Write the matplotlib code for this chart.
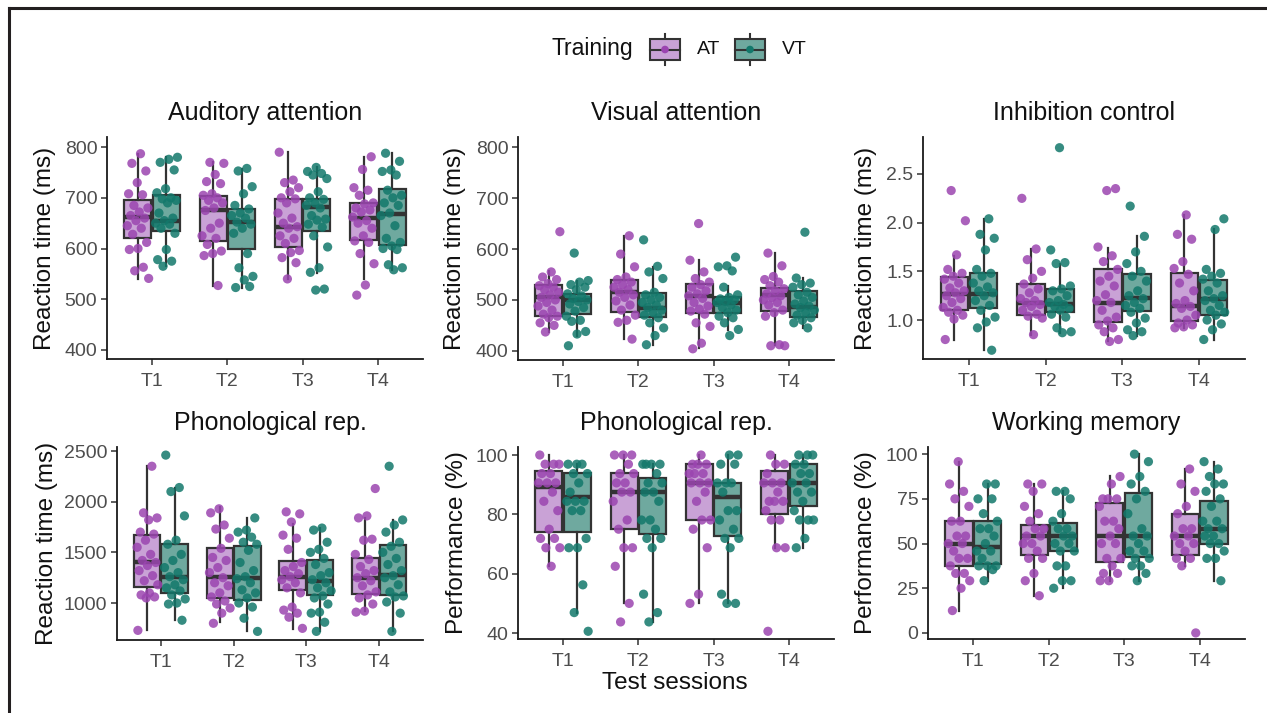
import matplotlib
matplotlib.use("Agg")
import matplotlib.pyplot as plt
from matplotlib.patches import Rectangle
from matplotlib.lines import Line2D
import numpy as np

plt.rcParams['font.family'] = ['Liberation Sans', 'DejaVu Sans']

sessions = ["T1", "T2", "T3", "T4"]
groups = ["AT", "VT"]

titles = ["Auditory attention", "Visual attention", "Inhibition control",
          "Phonological rep.", "Phonological rep.", "Working memory"]
ylabels = ["Reaction time (ms)", "Reaction time (ms)", "Reaction time (ms)",
           "Reaction time (ms)", "Performance (%)", "Performance (%)"]
yticks = [[400, 500, 600, 700, 800], [400, 500, 600, 700, 800], [1.0, 1.5, 2.0, 2.5],
          [1000, 1500, 2000, 2500], [40, 60, 80, 100], [0, 25, 50, 75, 100]]
ytick_labels = [["400", "500", "600", "700", "800"], ["400", "500", "600", "700", "800"],
                ["1.0", "1.5", "2.0", "2.5"], ["1000", "1500", "2000", "2500"],
                ["40", "60", "80", "100"], ["0", "25", "50", "75", "100"]]

# Box stats per panel: [session][group] -> [whislo, q1, med, q3, whishi]
aud_box = [
    [[540, 620, 662, 696, 787], [565, 635, 655, 706, 780]],
    [[527, 615, 676, 704, 770], [523, 600, 652, 678, 757]],
    [[540, 602, 642, 698, 790], [552, 634, 682, 697, 760]],
    [[540, 617, 660, 690, 780], [557, 607, 669, 717, 788]],
]
vis_box = [
    [[437, 468, 505, 530, 556], [430, 472, 500, 512, 538]],
    [[423, 477, 515, 540, 625], [412, 466, 485, 514, 565]],
    [[405, 474, 508, 532, 578], [440, 474, 494, 505, 527]],
    [[412, 478, 510, 524, 592], [445, 467, 487, 518, 543]],
]
inh_box = [
    [[0.80, 1.10, 1.27, 1.44, 1.66], [0.69, 1.12, 1.27, 1.48, 2.04]],
    [[0.85, 1.05, 1.17, 1.37, 1.73], [0.87, 1.08, 1.16, 1.32, 1.58]],
    [[0.78, 0.98, 1.18, 1.52, 1.74], [0.84, 1.09, 1.23, 1.47, 1.86]],
    [[0.92, 0.99, 1.14, 1.48, 2.08], [0.80, 1.05, 1.22, 1.41, 1.93]],
]
phrt_box = [
    [[730, 1158, 1400, 1670, 2350], [830, 1100, 1258, 1578, 2138]],
    [[810, 1052, 1254, 1539, 1945], [724, 1026, 1246, 1559, 1842]],
    [[746, 1131, 1254, 1414, 1783], [720, 1075, 1217, 1427, 1745]],
    [[920, 1085, 1250, 1445, 1840], [720, 1075, 1272, 1569, 1816]],
]
phpc_box = [
    [[62.5, 74.2, 89.1, 94.6, 100], [46.9, 74.2, 85.9, 93.8, 96.9]],
    [[50.0, 75.0, 87.5, 93.8, 100], [43.75, 73.4, 87.5, 92.2, 96.9]],
    [[50.0, 78.1, 90.6, 96.9, 100], [50.0, 72.7, 85.9, 90.6, 100]],
    [[68.75, 80.2, 90.6, 94.6, 100], [68.75, 82.8, 90.6, 97.0, 100]],
]
wm_box = [
    [[12.5, 37.5, 50.0, 62.5, 95.8], [29.2, 38.5, 48.0, 62.5, 83.3]],
    [[20.8, 43.75, 54.2, 60.4, 83.3], [25.0, 45.8, 54.2, 61.5, 79.2]],
    [[29.2, 39.6, 54.2, 72.9, 87.5], [29.2, 42.7, 54.2, 78.0, 100]],
    [[37.5, 43.75, 54.2, 66.7, 91.7], [29.2, 50.0, 58.3, 74.0, 95.8]],
]

# Individual observations: [session][group] -> list of values
aud_pts = [
    [[787, 768, 753, 730, 708, 706, 685, 680, 672, 665, 660, 655, 645, 640, 628, 612, 600, 598, 563, 556, 541],
     [780, 776, 770, 755, 718, 710, 700, 698, 695, 690, 670, 660, 655, 650, 648, 640, 630, 598, 578, 575, 565]],
    [[770, 768, 746, 732, 728, 708, 705, 700, 695, 690, 680, 675, 650, 640, 625, 620, 608, 595, 590, 586, 527],
     [758, 753, 722, 708, 685, 678, 670, 665, 660, 652, 648, 640, 630, 590, 562, 545, 538, 523, 525]],
    [[790, 735, 730, 720, 712, 700, 698, 690, 670, 660, 650, 643, 640, 625, 620, 610, 596, 592, 582, 572, 540],
     [760, 752, 748, 745, 738, 712, 700, 697, 690, 685, 680, 665, 658, 656, 648, 642, 625, 603, 562, 553, 520, 518]],
    [[781, 756, 720, 715, 705, 690, 688, 680, 676, 672, 662, 655, 650, 640, 625, 615, 612, 590, 570, 528, 508],
     [788, 772, 755, 752, 745, 715, 705, 700, 690, 685, 670, 665, 645, 620, 612, 605, 600, 598, 568, 562, 558]],
]
vis_pts = [
    [[634, 555, 545, 540, 532, 528, 525, 520, 515, 510, 505, 500, 495, 488, 480, 472, 468, 465, 455, 450, 437],
     [592, 538, 535, 530, 525, 520, 512, 508, 503, 500, 497, 492, 485, 478, 468, 460, 458, 438, 433, 410]],
    [[626, 590, 565, 545, 540, 535, 530, 525, 520, 515, 510, 505, 498, 490, 480, 470, 460, 456, 423],
     [618, 566, 555, 542, 515, 510, 505, 500, 495, 490, 485, 480, 475, 470, 465, 455, 445, 430, 412]],
    [[650, 578, 555, 542, 535, 530, 525, 518, 512, 508, 503, 495, 488, 482, 478, 472, 455, 448, 415, 404],
     [584, 567, 565, 557, 525, 510, 505, 502, 500, 497, 495, 490, 485, 480, 475, 468, 465, 455, 442, 430]],
    [[592, 567, 546, 540, 535, 528, 522, 518, 512, 508, 505, 500, 495, 490, 480, 475, 468, 412, 410, 410],
     [633, 543, 533, 530, 525, 515, 510, 505, 498, 492, 488, 485, 480, 475, 470, 465, 460, 455, 445]],
]
inh_pts = [
    [[2.33, 2.02, 1.67, 1.52, 1.48, 1.45, 1.42, 1.38, 1.33, 1.30, 1.28, 1.25, 1.22, 1.18, 1.13, 1.10, 1.08, 1.05, 1.01, 0.80],
     [2.04, 1.88, 1.84, 1.72, 1.52, 1.48, 1.45, 1.38, 1.34, 1.30, 1.28, 1.25, 1.20, 1.15, 1.10, 1.03, 0.98, 0.92, 0.69]],
    [[2.25, 1.73, 1.62, 1.50, 1.43, 1.37, 1.32, 1.28, 1.22, 1.20, 1.18, 1.16, 1.14, 1.10, 1.06, 1.04, 1.02, 0.85],
     [2.77, 1.72, 1.59, 1.58, 1.35, 1.32, 1.30, 1.25, 1.20, 1.18, 1.16, 1.14, 1.12, 1.10, 1.06, 1.03, 0.92, 0.88, 0.87]],
    [[2.35, 2.33, 1.75, 1.66, 1.60, 1.52, 1.45, 1.40, 1.35, 1.26, 1.20, 1.18, 1.10, 1.03, 0.99, 0.95, 0.92, 0.88, 0.80, 0.78],
     [2.17, 1.86, 1.70, 1.58, 1.50, 1.45, 1.40, 1.30, 1.25, 1.22, 1.18, 1.15, 1.12, 1.08, 1.02, 0.97, 0.90, 0.88, 0.84]],
    [[2.08, 1.88, 1.83, 1.60, 1.53, 1.47, 1.38, 1.30, 1.20, 1.17, 1.14, 1.12, 1.05, 1.00, 0.97, 0.95, 0.93, 0.92],
     [2.04, 1.93, 1.52, 1.48, 1.45, 1.42, 1.38, 1.30, 1.25, 1.22, 1.20, 1.15, 1.10, 1.08, 1.05, 1.00, 0.96, 0.90, 0.80]],
]
phrt_pts = [
    [[2350, 1890, 1840, 1820, 1700, 1680, 1620, 1550, 1480, 1420, 1400, 1370, 1320, 1270, 1220, 1180, 1100, 1080, 1060, 1050, 730],
     [2460, 2140, 2100, 1860, 1620, 1580, 1480, 1420, 1350, 1300, 1260, 1230, 1180, 1150, 1120, 1080, 1040, 1000, 990, 830]],
    [[1930, 1890, 1770, 1730, 1640, 1540, 1450, 1420, 1350, 1300, 1250, 1200, 1170, 1100, 1060, 1020, 990, 950, 900, 800],
     [1840, 1720, 1700, 1650, 1600, 1580, 1520, 1400, 1320, 1260, 1240, 1200, 1130, 1100, 1050, 1000, 960, 850, 720]],
    [[1900, 1880, 1800, 1670, 1640, 1530, 1400, 1360, 1320, 1290, 1260, 1230, 1200, 1150, 1100, 960, 930, 900, 860, 750],
     [1740, 1720, 1600, 1530, 1500, 1440, 1380, 1300, 1270, 1230, 1200, 1150, 1120, 1070, 1050, 990, 910, 900, 810, 720]],
    [[2130, 1860, 1840, 1630, 1620, 1480, 1430, 1360, 1320, 1290, 1250, 1220, 1170, 1110, 1080, 1050, 990, 920, 910],
     [2350, 1820, 1770, 1700, 1600, 1560, 1500, 1440, 1380, 1320, 1270, 1250, 1180, 1110, 1070, 1060, 1010, 900, 720]],
]
phpc_pts = [
    [[100, 96.9, 96.9, 96.9, 93.75, 93.75, 90.6, 90.6, 90.6, 87.5, 84.4, 81.25, 75, 71.9, 71.9, 68.75, 68.75, 62.5],
     [96.9, 96.9, 96.9, 93.75, 93.75, 90.6, 87.5, 84.4, 84.4, 84.4, 81.25, 81.25, 71.9, 68.75, 68.75, 56.25, 46.9, 40.6]],
    [[100, 100, 100, 96.9, 93.75, 93.75, 90.6, 90.6, 87.5, 87.5, 84.4, 78.1, 75, 68.75, 68.75, 62.5, 50, 43.75],
     [96.9, 96.9, 96.9, 96.9, 93.75, 90.6, 90.6, 87.5, 87.5, 84.4, 78.1, 78.1, 75, 71.9, 71.9, 68.75, 53.1, 46.9, 43.75]],
    [[100, 96.9, 96.9, 96.9, 93.75, 93.75, 93.75, 90.6, 90.6, 90.6, 87.5, 84.4, 78.1, 78.1, 75, 68.75, 53.1, 50],
     [100, 100, 96.9, 96.9, 90.6, 90.6, 90.6, 87.5, 81.25, 81.25, 78.1, 75, 71.9, 71.9, 68.75, 53.1, 50, 50]],
    [[100, 96.9, 96.9, 93.75, 90.6, 90.6, 90.6, 87.5, 84.4, 84.4, 84.4, 81.25, 78.1, 78.1, 68.75, 68.75, 40.6],
     [100, 100, 100, 96.9, 96.9, 93.75, 93.75, 90.6, 90.6, 87.5, 87.5, 84.4, 81.25, 78.1, 78.1, 78.1, 71.9, 68.75]],
]
wm_pts = [
    [[95.8, 83.3, 79.2, 75, 70.8, 62.5, 62.5, 54.2, 54.2, 50, 50, 45.8, 41.7, 41.7, 37.5, 33.3, 33.3, 29.2, 25, 12.5],
     [83.3, 83.3, 75, 75, 66.7, 62.5, 58.3, 58.3, 54.2, 50, 45.8, 45.8, 41.7, 37.5, 37.5, 37.5, 35.4, 29.2]],
    [[83.3, 83.3, 79.2, 70.8, 66.7, 62.5, 58.3, 58.3, 54.2, 54.2, 50, 50, 45.8, 41.7, 41.7, 33.3, 29.2, 20.8],
     [79.2, 79.2, 75, 66.7, 62.5, 58.3, 58.3, 54.2, 54.2, 50, 50, 45.8, 45.8, 37.5, 37.5, 29.2, 29.2, 25]],
    [[87.5, 83.3, 75, 75, 75, 70.8, 62.5, 62.5, 58.3, 54.2, 50, 50, 41.7, 41.7, 37.5, 33.3, 33.3, 29.2, 29.2],
     [100, 95.8, 87.5, 83.3, 79.2, 75, 66.7, 58.3, 54.2, 54.2, 50, 45.8, 45.8, 41.7, 41.7, 37.5, 37.5, 33.3, 29.2]],
    [[91.7, 83.3, 79.2, 70.8, 66.7, 58.3, 58.3, 54.2, 54.2, 50, 50, 45.8, 41.7, 41.7, 37.5, 0],
     [95.8, 91.7, 87.5, 83.3, 83.3, 79.2, 75, 70.8, 62.5, 62.5, 58.3, 58.3, 54.2, 54.2, 50, 50, 45.8, 41.7, 41.7, 29.2]],
]

boxes = [aud_box, vis_box, inh_box, phrt_box, phpc_box, wm_box]
points = [aud_pts, vis_pts, inh_pts, phrt_pts, phpc_pts, wm_pts]
ylims = [(382, 820), (382, 820), (0.60, 2.88), (635, 2540), (38, 102.7), (-3.4, 104)]

# ---- styling ----
W, H = 1267, 713
pt_colors = {"AT": "#9B45B0", "VT": "#13786B"}
box_colors = {"AT": "#C9A2D6", "VT": "#6FA99F"}
edge_col = "#333333"
tick_col = "#4D4D4D"
dodge = 0.19
box_w = 0.36
jit_w = 0.30

# axes rectangles in pixels: left, right, top, bottom
rects = [(107, 423, 137, 359), (518, 834, 137, 360), (923, 1245, 137, 359),
         (117, 423, 447, 640), (518, 834, 447, 639), (928, 1245, 447, 639)]
ylabel_x = [45, 455, 866, 47, 457, 866]

fig = plt.figure(figsize=(W / 100, H / 100), dpi=100)

def jitter(n, k):
    # deterministic spread of horizontal positions within the jitter band
    return (((np.arange(n) + 1) * 0.6180339887 + 0.37 * k) % 1.0 - 0.5) * jit_w

for p in range(6):
    l, r, t, b = rects[p]
    ax = fig.add_axes([l / W, 1 - b / H, (r - l) / W, (b - t) / H])
    for si, s in enumerate(sessions):
        for gi, g in enumerate(groups):
            st = boxes[p][si][gi]
            pos = si + 1 + (-dodge if gi == 0 else dodge)
            stats = [dict(whislo=st[0], q1=st[1], med=st[2], q3=st[3], whishi=st[4], fliers=[])]
            ax.bxp(stats, positions=[pos], widths=box_w, patch_artist=True, showcaps=False,
                   showfliers=False,
                   boxprops=dict(facecolor=box_colors[g], edgecolor=edge_col, linewidth=1.6),
                   medianprops=dict(color=edge_col, linewidth=3.2, solid_capstyle='butt'),
                   whiskerprops=dict(color=edge_col, linewidth=1.6))
            vals = points[p][si][gi]
            xs = pos + jitter(len(vals), si * 2 + gi + p)
            ax.scatter(xs, vals, s=44, color=pt_colors[g], alpha=0.85, edgecolors='none', zorder=5)
    ax.set_xlim(0.4, 4.6)
    ax.set_ylim(*ylims[p])
    ax.set_xticks(range(1, 5))
    ax.set_xticklabels(sessions)
    ax.set_yticks(yticks[p])
    ax.set_yticklabels(ytick_labels[p])
    for sp in ["top", "right"]:
        ax.spines[sp].set_visible(False)
    for sp in ["left", "bottom"]:
        ax.spines[sp].set_linewidth(1.3)
        ax.spines[sp].set_color("#1A1A1A")
    ax.tick_params(axis='both', length=4, width=1.1, color="#333333", labelcolor=tick_col,
                   labelsize=14, pad=3)
    ax.tick_params(axis='x', pad=6)
    ax.set_title(titles[p], fontsize=18, color="#111111", pad=12)
    fig.text(ylabel_x[p] / W, 1 - ((t + b) / 2) / H, ylabels[p], rotation=90,
             fontsize=17.5, color="#111111", ha='center', va='center')

fig.text(675 / W, 1 - 683 / H, "Test sessions", fontsize=17.5, color="#111111",
         ha='center', va='center')

# overlay for legend and frame
ov = fig.add_axes([0, 0, 1, 1], facecolor='none')
ov.set_xlim(0, W)
ov.set_ylim(H, 0)
ov.axis('off')
ov.add_line(Line2D([9, W], [8, 8], color="#231F20", lw=2.2))
ov.add_line(Line2D([9, 9], [8, H], color="#231F20", lw=2.2))

ov.text(552, 49, "Training", fontsize=16.5, color="#111111", ha='left', va='center')
for g, x0, tx in [("AT", 650, 697), ("VT", 735, 782)]:
    ov.add_line(Line2D([x0 + 15, x0 + 15], [34, 65], color=edge_col, lw=1.5))
    ov.add_patch(Rectangle((x0, 39), 30, 21, facecolor=box_colors[g], edgecolor=edge_col, lw=1.5, zorder=3))
    ov.add_line(Line2D([x0, x0 + 30], [49.5, 49.5], color=edge_col, lw=1.5, zorder=4))
    ov.scatter([x0 + 15], [49.5], s=30, color=pt_colors[g], zorder=5, edgecolors='none')
    ov.text(tx, 49, g, fontsize=14, color="#111111", ha='left', va='center')

fig.savefig("out.png", dpi=100, facecolor="white")
